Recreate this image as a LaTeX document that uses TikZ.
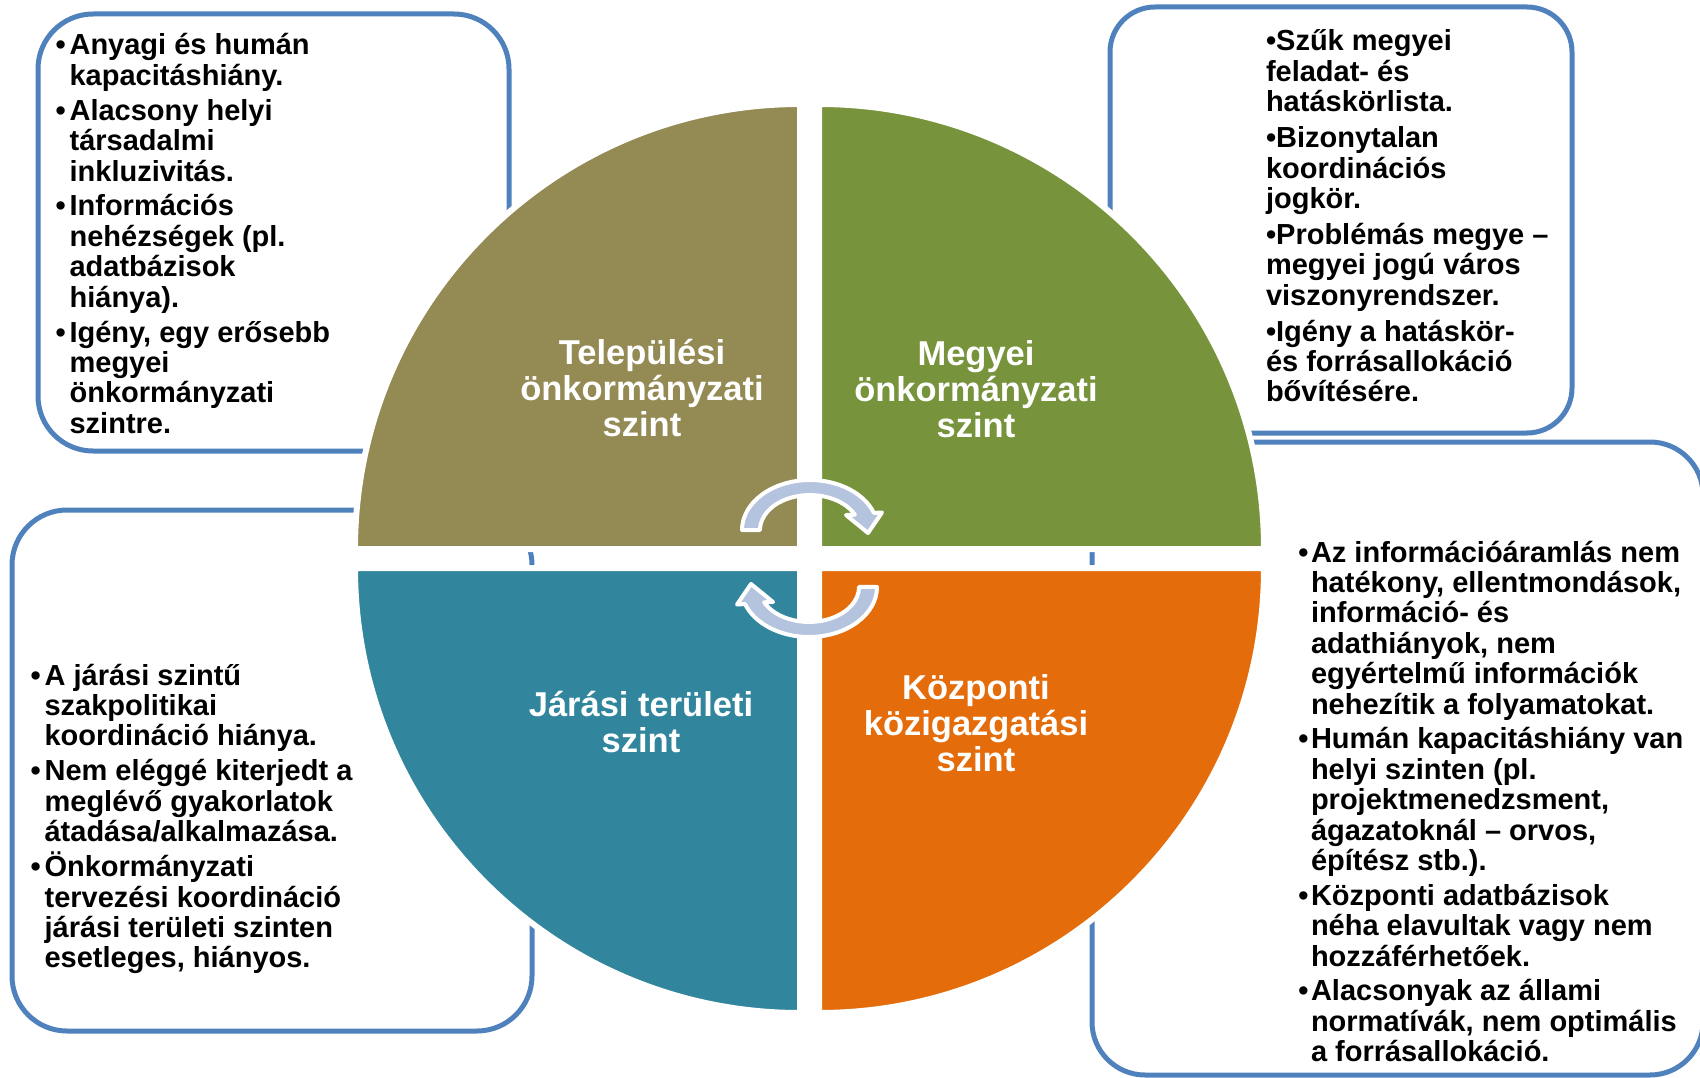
\documentclass[tikz,border=0pt]{standalone}
\usepackage{fontspec}
\setmainfont{Liberation Sans}
\definecolor{cOlive}{HTML}{948A54}
\definecolor{cGreen}{HTML}{77933C}
\definecolor{cTeal}{HTML}{31859C}
\definecolor{cOrange}{HTML}{E46C0A}
\definecolor{cBlue}{HTML}{4F81BD}
\definecolor{cArrow}{HTML}{B4C3DE}
\newcommand{\bpar}[2]{\par\hangindent=#1\hangafter=1\noindent\makebox[#1][c]{•}#2\par}
\newcommand{\bgap}[1]{\par\vspace{#1}}
\newcommand{\txtsetup}{\fontsize{29pt}{30.4pt}\selectfont\bfseries\lineskiplimit=-100pt\lineskip=0pt\parskip=0pt\parindent=0pt\raggedright}
\newcommand{\lblfont}{\fontsize{34.5pt}{36pt}\selectfont\bfseries\lineskiplimit=-100pt\relax}
\tikzset{
  infobox/.style={rectangle, draw=cBlue, line width=5pt, fill=white, rounded corners=#1, inner sep=0pt},
  bullettext/.style={anchor=base west, inner sep=0pt, outer sep=0pt, text=black},
  quadrant/.style={draw=white, line width=6pt, line join=miter},
  qlabel/.style={text=white, align=center, inner sep=0pt, font=\lblfont},
  cyclearrow/.style={fill=cArrow, draw=white, line width=4pt, line join=round}
}
\begin{document}
\begin{tikzpicture}[x=1pt,y=1pt]
\useasboundingbox (0,0) rectangle (1700,-1078);
\clip (0,0) rectangle (1700,-1078);

% info boxes
\node[infobox=55pt, minimum width=471pt, minimum height=437pt] (b1) at (273.5,-232.5) {};
\node[infobox=45pt, minimum width=462pt, minimum height=426pt] (b2) at (1341,-220) {};
\node[infobox=55pt, minimum width=520pt, minimum height=521pt] (b3) at (272,-770.5) {};
\node[infobox=53pt, minimum width=611pt, minimum height=633pt] (b4) at (1397.5,-758.5) {};

% quadrants
\path[quadrant, fill=cOlive] (800,-549) -- ++(-445,0) arc[start angle=180, end angle=90, radius=445pt] -- cycle;
\path[quadrant, fill=cGreen] (819,-549) -- ++(0,445) arc[start angle=90, end angle=0, radius=445pt] -- cycle;
\path[quadrant, fill=cTeal] (800,-568) -- ++(-445,0) arc[start angle=180, end angle=270, radius=445pt] -- cycle;
\path[quadrant, fill=cOrange] (819,-568) -- ++(445,0) arc[start angle=0, end angle=-90, radius=445pt] -- cycle;

% quadrant labels
\node[qlabel] (lTL) at (642,-388) {Települési\\önkormányzati\\szint};
\node[qlabel] (lTR) at (976,-389) {Megyei\\önkormányzati\\szint};
\node[qlabel] (lBL) at (641,-722) {Járási területi\\szint};
\node[qlabel] (lBR) at (976,-723) {Központi\\közigazgatási\\szint};

% cycle arrows
\path[cyclearrow] (742,-530) arc[start angle=180, end angle=20, x radius=68pt, y radius=50pt]
  -- (882,-512.5) -- (868,-533) -- (846,-515) -- (854.9,-514.7)
  arc[start angle=26, end angle=180, x radius=50pt, y radius=35pt] -- cycle;
\begin{scope}[rotate around={180:(809.5,-558.5)}]
\path[cyclearrow] (742,-530) arc[start angle=180, end angle=20, x radius=68pt, y radius=50pt]
  -- (882,-512.5) -- (868,-533) -- (846,-515) -- (854.9,-514.7)
  arc[start angle=26, end angle=180, x radius=50pt, y radius=35pt] -- cycle;
\end{scope}

% box texts
\node[bullettext] (t1) at (51.6,-55) {\begin{minipage}[t]{450pt}\txtsetup
\bpar{18pt}{Anyagi és humán\newline kapacitáshiány.}\bgap{4.5pt}
\bpar{18pt}{Alacsony helyi\newline társadalmi\newline inkluzivitás.}\bgap{4.5pt}
\bpar{18pt}{Információs\newline nehézségek (pl.\newline adatbázisok\newline hiánya).}\bgap{4.5pt}
\bpar{18pt}{Igény, egy erősebb\newline megyei\newline önkormányzati\newline szintre.}
\end{minipage}};

\node[bullettext] (t2) at (1266,-51) {\begin{minipage}[t]{400pt}\txtsetup
\noindent •Szűk megyei\newline feladat- és\newline hatáskörlista.\bgap{5.5pt}
\noindent •Bizonytalan\newline koordinációs\newline jogkör.\bgap{5.5pt}
\noindent •Problémás megye –\newline megyei jogú város\newline viszonyrendszer.\bgap{5.5pt}
\noindent •Igény a hatáskör-\newline és forrásallokáció\newline bővítésére.\par
\end{minipage}};

\node[bullettext] (t3) at (26.8,-685) {\begin{minipage}[t]{480pt}\txtsetup
\bpar{17.8pt}{A járási szintű\newline szakpolitikai\newline koordináció hiánya.}\bgap{4.6pt}
\bpar{17.8pt}{Nem eléggé kiterjedt a\newline meglévő gyakorlatok\newline átadása/alkalmazása.}\bgap{4.6pt}
\bpar{17.8pt}{Önkormányzati\newline tervezési koordináció\newline járási területi szinten\newline esetleges, hiányos.}
\end{minipage}};

\node[bullettext] (t4) at (1295.8,-562) {\begin{minipage}[t]{420pt}\txtsetup
\bpar{15.2pt}{Az információáramlás nem\newline hatékony, ellentmondások,\newline információ- és\newline adathiányok, nem\newline egyértelmű információk\newline nehezítik a folyamatokat.}\bgap{4.4pt}
\bpar{15.2pt}{Humán kapacitáshiány van\newline helyi szinten (pl.\newline projektmenedzsment,\newline ágazatoknál – orvos,\newline építész stb.).}\bgap{4.4pt}
\bpar{15.2pt}{Központi adatbázisok\newline néha elavultak vagy nem\newline hozzáférhetőek.}\bgap{4.4pt}
\bpar{15.2pt}{Alacsonyak az állami\newline normatívák, nem optimális\newline a forrásallokáció.}
\end{minipage}};
\end{tikzpicture}
\end{document}
